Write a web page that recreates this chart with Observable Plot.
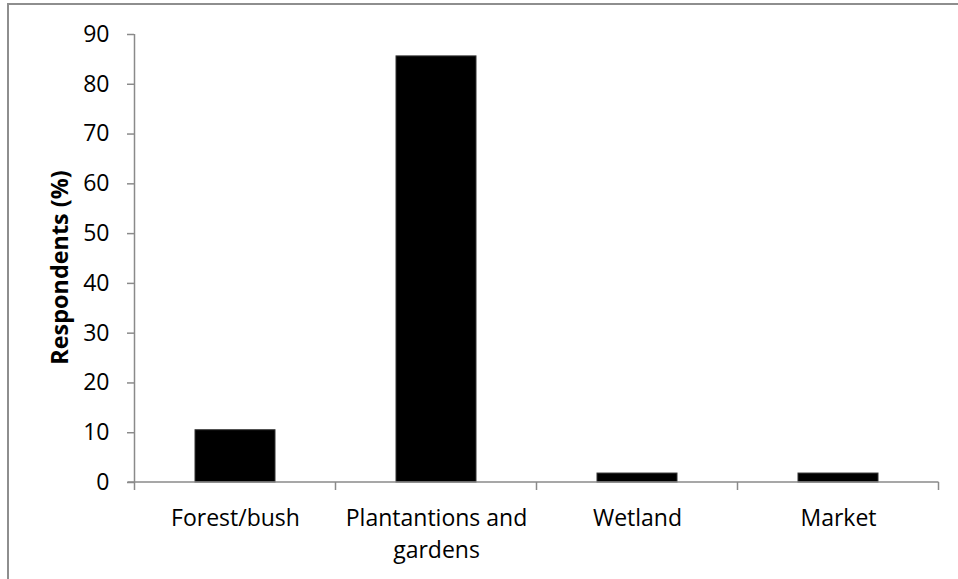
<!DOCTYPE html>
<html>
<head>
<meta charset="utf-8">
<script src="https://cdn.jsdelivr.net/npm/d3@7"></script>
<script src="https://cdn.jsdelivr.net/npm/@observablehq/plot@0.6"></script>
<style>
  html, body { margin: 0; padding: 0; background: #fff; }
  #wrap { position: relative; width: 958px; height: 579px; overflow: hidden; background: #fff; }
  #frame { position: absolute; left: 7px; top: 3px; width: 1000px; height: 700px;
           border-left: 2px solid #8e8e8e; border-top: 2px solid #8e8e8e; box-sizing: border-box; }
  #chart { position: absolute; left: 0; top: 0; }
</style>
</head>
<body>
<div id="wrap"><div id="frame"></div><div id="chart"></div></div>
<script>
const categories = ["Forest/bush", "Plantantions and gardens", "Wetland", "Market"];
const tickLabels = ["Forest/bush", "Plantantions and\ngardens", "Wetland", "Market"];
const values = [10.5, 85.6, 1.8, 1.8];
const yTicks = [0, 10, 20, 30, 40, 50, 60, 70, 80, 90];
const yLabel = "Respondents (%)";

const data = categories.map((c, i) => ({category: c, label: tickLabels[i], value: values[i]}));
const axisColor = "#8a8a8a";
const yMax = yTicks[yTicks.length - 1];

function axisLines(index, scales, vals, dims) {
  const x = scales.x, y = scales.y;
  const n = categories.length;
  const step = typeof x.step === "function" ? x.step() : (dims.width - dims.marginLeft - dims.marginRight) / n;
  const bw = typeof x.bandwidth === "function" ? x.bandwidth() : step * 0.4;
  const bounds = categories.map(c => x(c) + bw / 2 - step / 2);
  bounds.push(x(categories[n - 1]) + bw / 2 + step / 2);
  const y0 = y(0), yTop = y(yMax);
  const g = d3.create("svg:g").attr("stroke", axisColor).attr("stroke-width", 1.5).attr("fill", "none");
  g.append("line").attr("x1", bounds[0]).attr("x2", bounds[0]).attr("y1", yTop).attr("y2", y0);
  g.append("line").attr("x1", bounds[0] - 7).attr("x2", bounds[n]).attr("y1", y0).attr("y2", y0);
  bounds.forEach(b => g.append("line").attr("x1", b).attr("x2", b).attr("y1", y0).attr("y2", y0 + 8));
  return g.node();
}

const chart = Plot.plot({
  width: 958,
  height: 579,
  marginLeft: 134,
  marginRight: 18,
  marginTop: 34,
  marginBottom: 97,
  style: {fontFamily: "'Open Sans', sans-serif", fontSize: "23px", color: "#000", background: "transparent", overflow: "visible"},
  x: {domain: categories, paddingInner: 0.6, paddingOuter: 0.3, label: null, axis: null},
  y: {domain: [0, yMax], label: null, axis: null},
  marks: [
    Plot.barY(data, {x: "category", y: "value", fill: "#000", stroke: "#333", strokeWidth: 1}),
    axisLines,
    Plot.axisY({ticks: yTicks, tickSize: 7, tickPadding: 18, stroke: axisColor, strokeWidth: 1.5, fill: "#000", fontSize: 23, label: null}),
    Plot.text(data, {x: "category", text: "label", frameAnchor: "bottom", lineAnchor: "top", dy: 21, lineHeight: 1.39, fontSize: 23, fill: "#000"}),
    Plot.text([yLabel], {text: d => d, frameAnchor: "left", textAnchor: "middle", rotate: -90, dx: -74, dy: 9, fontWeight: "bold", fontSize: 23.4, fill: "#000"})
  ]
});
document.getElementById("chart").append(chart);
</script>
</body>
</html>
